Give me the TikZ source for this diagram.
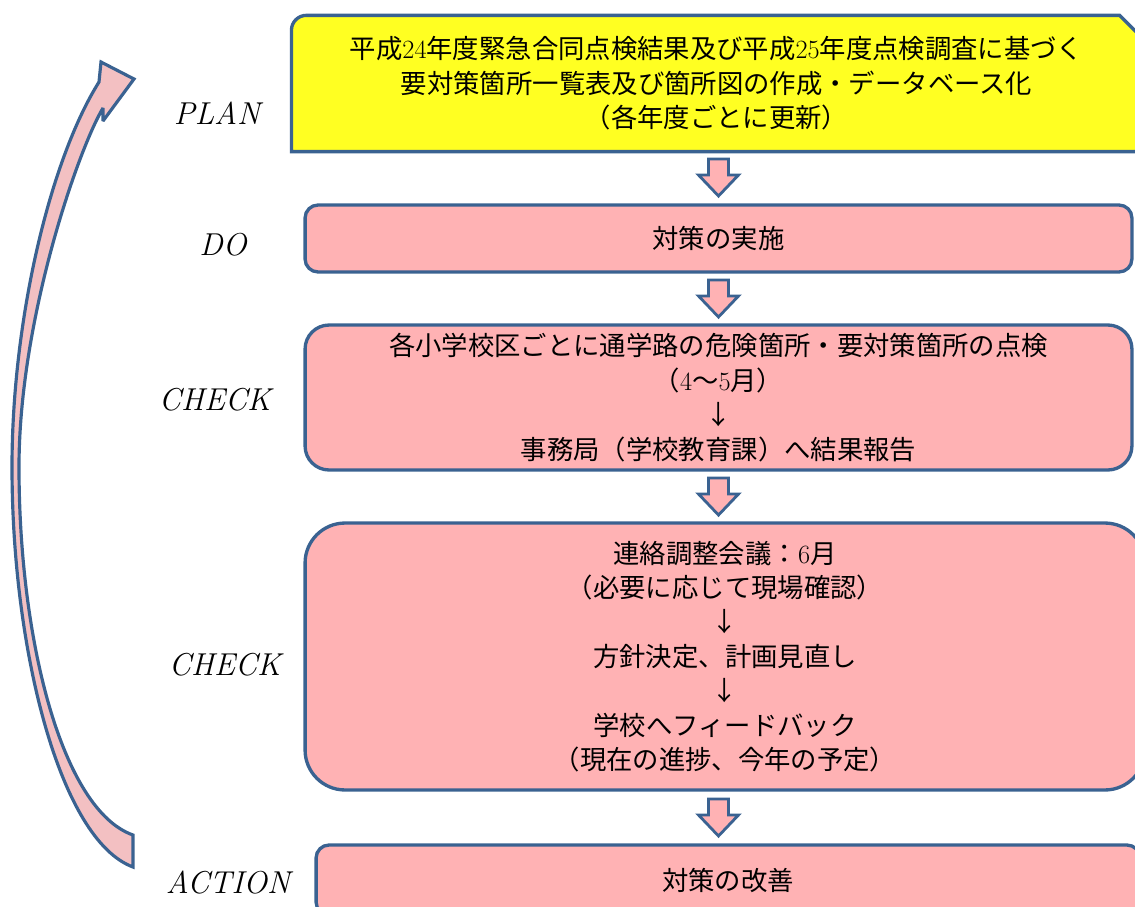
\documentclass[tikz,border=0pt]{standalone}
\usepackage{fontspec}
\usepackage{tikz}
\usetikzlibrary{calc,backgrounds}
\newfontfamily\jp{Noto Sans CJK JP}
\definecolor{edgeblue}{RGB}{58,98,145}
\definecolor{boxpink}{RGB}{255,178,180}
\definecolor{planyellow}{RGB}{255,255,34}
\definecolor{loopfill}{RGB}{243,192,194}
\newcommand{\dg}[1]{{\rmfamily #1}}
\tikzset{
  stage/.style={font=\fontsize{18}{22}\selectfont\itshape},
  flowbox/.style={draw=edgeblue, line width=1.9pt, fill=boxpink, align=center,
    inner sep=0pt, font=\jp\fontsize{15}{19.6}\selectfont},
  flowarrow/.style={draw=edgeblue, line width=1.6pt, fill=boxpink, line join=miter},
  looparrow/.style={draw=edgeblue, line width=1.8pt, fill=loopfill, line join=miter, miter limit=3}
}

\begin{document}
\begin{tikzpicture}[x=0.02cm, y=-0.02cm]
\useasboundingbox (0,0) rectangle (1135,906);
\node[flowbox, draw=none, fill=none, minimum width=16.94cm, minimum height=2.66cm] (plan) at (716.5,83.5)
  {平成\dg{24}年度緊急合同点検結果及び平成\dg{25}年度点検調査に基づく\\要対策箇所一覧表及び箇所図の作成・データベース化\\（各年度ごとに更新）};
\node[flowbox, rounded corners=0.26cm, minimum width=16.54cm, minimum height=1.34cm] (do) at (718.5,238.5) {対策の実施};
\node[flowbox, rounded corners=0.48cm, minimum width=16.54cm, minimum height=2.9cm] (chkA) at (718.5,397.5)
  {各小学校区ごとに通学路の危険箇所・要対策箇所の点検\\（\dg{4}〜\dg{5}月）\\↓\\事務局（学校教育課）へ結果報告};
\node[flowbox, rounded corners=0.8cm, minimum width=16.8cm, minimum height=5.34cm] (chkB) at (725,656.5)
  {連絡調整会議：\dg{6}月\\（必要に応じて現場確認）\\↓\\方針決定、計画見直し\\↓\\学校へフィードバック\\（現在の進捗、今年の予定）};
\node[flowbox, rounded corners=0.26cm, minimum width=16.48cm, minimum height=1.4cm] (act) at (728,880) {対策の改善};
\begin{scope}[on background layer]
\draw[draw=edgeblue, line width=1.9pt, fill=planyellow] (plan.south west) -- ([yshift=-0.3cm]plan.north west)
  arc[start angle=180, end angle=90, radius=0.3cm] -- ([xshift=-0.44cm]plan.north east)
  -- ([yshift=-0.44cm]plan.north east) -- (plan.south east) -- cycle;
\end{scope}
\node[stage] (lplan) at (217,113) {PLAN};
\node[stage] (ldo) at (223,245) {DO};
\node[stage] (lchkA) at (215,400) {CHECK};
\node[stage] (lchkB) at (225,665) {CHECK};
\node[stage] (lact) at (228,883) {ACTION};
\foreach \a/\b in {plan/do, do/chkA, chkA/chkB, chkB/act} {
  \path ($(\a.south)!0.5!(\b.north)$) coordinate (m);
  \draw[flowarrow] (do.center |- m) ++(-10,-18.5) -- ++(20,0) -- ++(0,16) -- ++(10,0)
    -- ++(-20,21) -- ++(-20,-21) -- ++(10,0) -- cycle;
}
% cycle arrow back to PLAN
\draw[looparrow] (133,867) .. controls (60,840) and (12,650) .. (12,467)
  .. controls (12,320) and (50,160) .. (99,82) -- (101,62) -- (134,79) -- (103,121) -- (103,108)
  .. controls (78,150) and (19,320) .. (19,467) .. controls (19,640) and (62,810) .. (133,835) -- cycle;
\end{tikzpicture}
\end{document}
